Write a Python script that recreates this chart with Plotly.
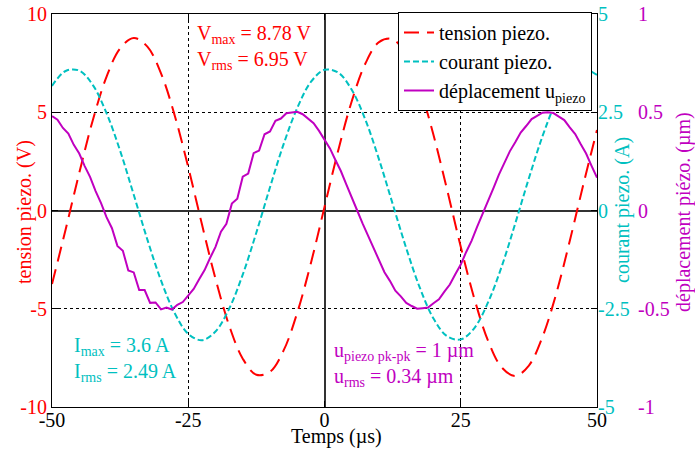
import plotly.graph_objects as go

# ---- data ----
temps_vi = [-50, -47.5, -45, -42.5, -40, -37.5, -35, -32.5, -30, -27.5, -25, -22.5, -20, -17.5, -15,
            -12.5, -10, -7.5, -5, -2.5, 0, 2.5, 5, 7.5, 10, 12.5, 15, 17.5, 20, 22.5, 25, 27.5, 30,
            32.5, 35, 37.5, 40, 42.5, 45, 47.5, 50]
tension = [-3.74, -0.97, 1.91, 4.61, 6.80, 8.25, 8.78, 8.34, 6.98, 4.85, 2.20, -0.69, -3.48, -5.85, -7.54,
           -8.36, -8.21, -7.12, -5.20, -2.68, 0.18, 3.04, 5.56, 7.48, 8.57, 8.72, 7.90, 6.21, 3.84, 1.05,
           -1.84, -4.49, -6.62, -7.98, -8.42, -7.89, -6.43, -4.25, -1.55, 1.33, 4.10]
courant = [3.17, 3.55, 3.56, 3.19, 2.48, 1.52, 0.40, -0.74, -1.78, -2.61, -3.14, -3.30, -3.08, -2.50, -1.63,
           -0.56, 0.59, 1.69, 2.61, 3.27, 3.58, 3.51, 3.07, 2.31, 1.30, 0.17, -0.96, -1.97, -2.75, -3.20,
           -3.28, -2.99, -2.34, -1.43, -0.33, 0.82, 1.89, 2.77, 3.36, 3.60, 3.45]

temps_u = list(range(-50, 51))
deplacement = [0.480, 0.462, 0.420, 0.391, 0.334, 0.290, 0.226, 0.170, 0.099, 0.038,
               -0.034, -0.090, -0.180, -0.205, -0.305, -0.315, -0.405, -0.405, -0.470, -0.468,
               -0.503, -0.494, -0.504, -0.480, -0.466, -0.431, -0.399, -0.350, -0.303, -0.242,
               -0.185, -0.108, -0.068, 0.035, 0.060, 0.172, 0.188, 0.292, 0.305, 0.388,
               0.402, 0.456, 0.468, 0.495, 0.500, 0.502, 0.490, 0.468, 0.444, 0.405,
               0.362, 0.316, 0.257, 0.201, 0.133, 0.071, 0.000, -0.067, -0.130, -0.197,
               -0.254, -0.314, -0.358, -0.408, -0.437, -0.470, -0.486, -0.500, -0.497, -0.494,
               -0.472, -0.452, -0.413, -0.377, -0.324, -0.275, -0.211, -0.153, -0.083, -0.020,
               0.051, 0.114, 0.183, 0.239, 0.301, 0.347, 0.397, 0.430, 0.465, 0.482,
               0.498, 0.500, 0.496, 0.478, 0.460, 0.423, 0.389, 0.338, 0.290, 0.227, 0.167]

x_ticks = [-50, -25, 0, 25, 50]
x_labels = ["-50", "-25", "0", "25", "50"]
y1_ticks = [-10, -5, 0, 5, 10]
y1_labels = ["-10", "-5", "0", "5", "10"]
y2_ticks = [-5, -2.5, 0, 2.5, 5]
y2_labels = ["-5", "-2.5", "0", "2.5", "5"]
y3_ticks = [-1, -0.5, 0, 0.5, 1]
y3_labels = ["-1", "-0.5", "0", "0.5", "1"]

RED = "#ff0000"
CYAN = "#00c0c0"
MAG = "#c000c0"
FONT = "Liberation Serif"

W, H = 695, 450
ML, MR, MT, MB = 52, 0, 14, 450 - 407
PW = W - ML - MR
PH = H - MT - MB
plot_right = 597
xdom = (plot_right - ML) / PW

def px_x(p):  # window pixel -> paper fraction
    return (p - ML) / PW

def px_y(p):
    return (H - MB - p) / PH

fig = go.Figure()
fig.add_trace(go.Scatter(x=temps_vi, y=tension, mode="lines", name="tension piezo.",
                         line=dict(color=RED, width=2, dash="15px,8px", shape="spline"), yaxis="y"))
fig.add_trace(go.Scatter(x=temps_vi, y=courant, mode="lines", name="courant piezo.",
                         line=dict(color=CYAN, width=2, dash="6px,3px", shape="spline"), yaxis="y2"))
fig.add_trace(go.Scatter(x=temps_u, y=deplacement, mode="lines", name="déplacement u<sub>piezo</sub>",
                         line=dict(color=MAG, width=2), yaxis="y3"))

fig.update_layout(
    width=W, height=H,
    margin=dict(l=ML, r=MR, t=MT, b=MB, autoexpand=False),
    paper_bgcolor="white", plot_bgcolor="white",
    font=dict(family=FONT, size=20, color="black"),
    xaxis=dict(domain=[0, xdom], range=[-50, 50], tickvals=x_ticks, ticktext=x_labels,
               automargin=False, ticklabelstandoff=-5, ticklabeloverflow="allow",
               showline=True, linecolor="black", linewidth=1, mirror="ticks",
               ticks="inside", ticklen=6, tickcolor="black",
               showgrid=True, gridcolor="black", griddash="dot", gridwidth=1,
               zeroline=True, zerolinecolor="#333333", zerolinewidth=1.5,
               tickfont=dict(color="black", size=20)),
    yaxis=dict(range=[-10, 10], tickvals=y1_ticks, ticktext=y1_labels, automargin=False,
               ticklabeloverflow="allow",
               showline=True, linecolor="black", linewidth=1, mirror="ticks",
               ticks="inside", ticklen=6, tickcolor="black",
               showgrid=True, gridcolor="black", griddash="dot", gridwidth=1,
               zeroline=True, zerolinecolor="#333333", zerolinewidth=1.5,
               tickfont=dict(color=RED, size=20)),
    yaxis2=dict(overlaying="y", side="right", anchor="x", range=[-5, 5], tickvals=y2_ticks,
                ticktext=y2_labels, automargin=False, ticklabeloverflow="allow",
                showline=False, showgrid=False, zeroline=False, ticks="",
                tickfont=dict(color=CYAN, size=20)),
    yaxis3=dict(overlaying="y", side="right", anchor="free", position=px_x(637), range=[-1, 1],
                tickvals=y3_ticks, ticktext=y3_labels, automargin=False, ticklabeloverflow="allow",
                showline=False, showgrid=False, zeroline=False, ticks="",
                tickfont=dict(color=MAG, size=20)),
    legend=dict(x=px_x(592), xanchor="right", y=px_y(12), yanchor="top",
                bgcolor="white", bordercolor="black", borderwidth=1,
                font=dict(size=20, family=FONT), tracegroupgap=0),
    showlegend=True,
)

annotations = [
    dict(text="V<sub>max</sub> = 8.78 V<br>V<sub>rms</sub> = 6.95 V", x=-23.8, y=9.7,
         xref="x", yref="y", xanchor="left", yanchor="top", align="left", showarrow=False,
         font=dict(color=RED, size=20, family=FONT)),
    dict(text="I<sub>max</sub> = 3.6 A<br>I<sub>rms</sub> = 2.49 A", x=-46.4, y=-6.2,
         xref="x", yref="y", xanchor="left", yanchor="top", align="left", showarrow=False,
         font=dict(color=CYAN, size=20, family=FONT)),
    dict(text="u<sub>piezo pk-pk</sub> = 1 µm<br>u<sub>rms</sub> = 0.34 µm", x=1.4, y=-6.45,
         xref="x", yref="y", xanchor="left", yanchor="top", align="left", showarrow=False,
         font=dict(color=MAG, size=20, family=FONT)),
    dict(text="tension piezo. (V)", x=px_x(25), y=px_y(212), xref="paper", yref="paper",
         xanchor="center", yanchor="middle", textangle=-90, showarrow=False,
         font=dict(color=RED, size=20, family=FONT)),
    dict(text="courant piezo. (A)", x=px_x(622), y=px_y(210), xref="paper", yref="paper",
         xanchor="center", yanchor="middle", textangle=-90, showarrow=False,
         font=dict(color=CYAN, size=20, family=FONT)),
    dict(text="déplacement piézo. (µm)", x=px_x(684), y=px_y(212), xref="paper", yref="paper",
         xanchor="center", yanchor="middle", textangle=-90, showarrow=False,
         font=dict(color=MAG, size=20, family=FONT)),
    dict(text="Temps (µs)", x=px_x(336), y=px_y(437), xref="paper", yref="paper",
         xanchor="center", yanchor="middle", showarrow=False,
         font=dict(color="black", size=20, family=FONT)),
]
fig.update_layout(annotations=annotations)

# remove the default 8 px page margin so the figure fills the window exactly
fig.write_html("out.html", config={"displayModeBar": False},
               post_script="document.body.style.margin='0';")
